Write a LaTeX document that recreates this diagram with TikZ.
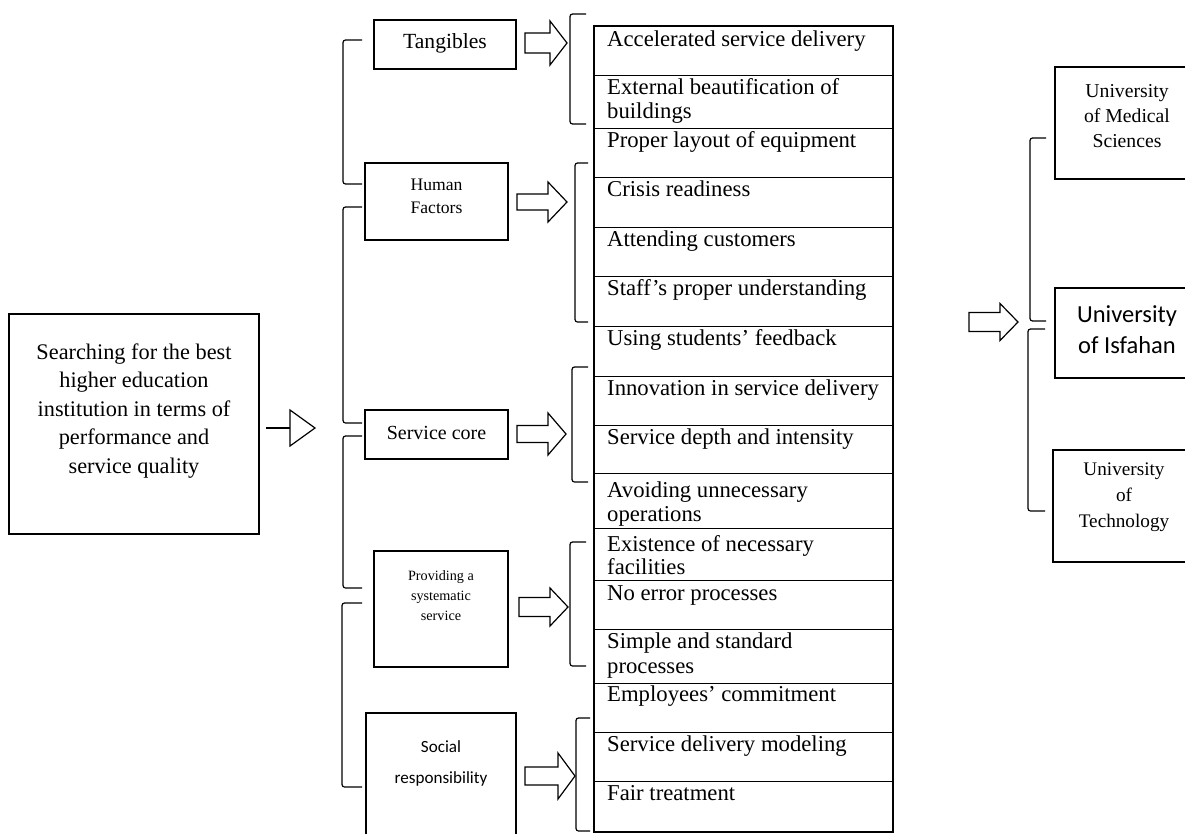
\documentclass[tikz,border=0pt]{standalone}
\usepackage{fontspec}
\setmainfont{Liberation Serif}
\newfontfamily\calib{Carlito}
\tikzset{
  boxr/.style={draw, line width=1.3pt, inner sep=0pt},
  brkt/.style={line width=1.2pt, rounded corners=2.5pt},
  barr/.style={draw, line width=1.2pt, fill=white, line join=miter},
  ltxt/.style={anchor=base west, inner sep=0pt, font=\fontsize{22.7}{25}\selectfont},
  ctxt/.style={align=center, inner sep=0pt},
  sepline/.style={line width=1pt},
}
\newcommand\blockarr[6]{%
  \draw[barr] (#1,#4-#5) -- (#2,#4-#5) -- (#2,#4-#6) -- (#3,#4) -- (#2,#4+#6) -- (#2,#4+#5) -- (#1,#4+#5) -- cycle;}
\newcommand\mybrk[4]{%
  \draw[brkt] (#4,#2) -- (#1,#2) -- (#1,#3) -- (#4,#3);}
\begin{document}
\begin{tikzpicture}[x=1pt,y=-1pt]
\useasboundingbox (0,0) rectangle (1185,833);
\clip (0,0) rectangle (1185,833);
\fill[white] (0,0) rectangle (1185,833);

% left box
\node[boxr, minimum width=250pt, minimum height=220pt] (left) at (134,424) {};
\node[ctxt, font=\fontsize{22.3}{28.5}\selectfont] (lefttxt) at (134,411)
  {Searching for the best\\higher education\\institution in terms of\\performance and\\service quality};
\coordinate (la) at (266,428);
\coordinate (lb) at (290,428);
\draw[line width=1.2pt] (la) -- (lb);
\draw[line width=1.2pt, fill=white, line join=miter] (290,410) -- (315,428) -- (290,446) -- cycle;

% middle boxes
\node[boxr, minimum width=142pt, minimum height=49pt] (tang) at (445,44.5) {};
\node[ctxt, font=\fontsize{21.6}{25}\selectfont] (tangtxt) at (445,43) {Tangibles};
\node[boxr, minimum width=143pt, minimum height=77pt] (hf) at (436.5,201.5) {};
\node[ctxt, font=\fontsize{17.6}{23}\selectfont] (hftxt) at (436.5,196) {Human\\Factors};
\node[boxr, minimum width=143pt, minimum height=49pt] (sc) at (436.5,434.5) {};
\node[ctxt, font=\fontsize{20}{24}\selectfont] (sctxt) at (436.5,433) {Service core};
\node[boxr, minimum width=134pt, minimum height=116pt] (ps) at (441,609) {};
\node[ctxt, font=\fontsize{14.2}{20}\selectfont] (pstxt) at (441,596) {Providing a\\systematic\\service};
\node[boxr, minimum width=150pt, minimum height=137pt] (sr) at (441,781.5) {};
\node[ctxt, font=\calib\fontsize{17.1}{31}\selectfont] (srtxt) at (441,763) {Social\\responsibility};

% brackets left of middle column
\mybrk{343}{40}{184}{362}
\mybrk{343}{207}{423}{362}
\mybrk{343}{436}{588}{362}
\mybrk{342}{603}{787}{362}

% block arrows
\blockarr{525}{550}{567}{43}{10}{22}
\blockarr{517}{548}{567}{202}{8}{20}
\blockarr{517}{548}{566}{434}{8.5}{21}
\blockarr{519}{550}{568}{607}{9.5}{19}
\blockarr{525}{558}{575}{776}{9}{23}

% brackets right of middle column
\mybrk{570}{14}{124}{586}
\mybrk{575}{163}{322}{588}
\mybrk{572}{367}{482}{588}
\mybrk{570}{542}{666}{586}
\mybrk{576}{718}{831}{590}

% list
\node[draw, line width=1.6pt, minimum width=299pt, minimum height=806pt, anchor=north west, inner sep=0pt] (list) at (593,25) {};
\foreach \yy in {75,128,177,227,276,326,376,425,473,528,580,629,683,732,781}
  \draw[sepline] (593,\yy) -- (892,\yy);

\node[ltxt] (r1) at (607,46) {Accelerated service delivery};
\node[ltxt] (r2a) at (607,94) {External beautification of};
\node[ltxt] (r2b) at (607,118) {buildings};
\node[ltxt] (r3) at (607,147) {Proper layout of equipment};
\node[ltxt] (r4) at (607,196) {Crisis readiness};
\node[ltxt] (r5) at (607,246) {Attending customers};
\node[ltxt] (r6) at (607,295) {Staff’s proper understanding};
\node[ltxt] (r7) at (607,345) {Using students’ feedback};
\node[ltxt] (r8) at (607,395) {Innovation in service delivery};
\node[ltxt] (r9) at (607,444) {Service depth and intensity};
\node[ltxt] (r10a) at (607,497) {Avoiding unnecessary};
\node[ltxt] (r10b) at (607,521) {operations};
\node[ltxt] (r11a) at (607,551) {Existence of necessary};
\node[ltxt] (r11b) at (607,574) {facilities};
\node[ltxt] (r12) at (607,600) {No error processes};
\node[ltxt] (r13a) at (607,648) {Simple and standard};
\node[ltxt] (r13b) at (607,673) {processes};
\node[ltxt] (r14) at (607,701) {Employees’ commitment};
\node[ltxt] (r15) at (607,751) {Service delivery modeling};
\node[ltxt] (r16) at (607,800) {Fair treatment};

% right arrow and brackets
\blockarr{969}{1000}{1018}{322}{9.5}{18.5}
\mybrk{1030}{138}{321}{1046}
\mybrk{1028}{329}{511}{1045}

% right boxes
\node[boxr, minimum width=140pt, minimum height=112pt] (med) at (1125,123) {};
\node[ctxt, font=\fontsize{19.7}{25}\selectfont] (medtxt) at (1127,116) {University\\of Medical\\Sciences};
\node[boxr, minimum width=140pt, minimum height=90pt] (isf) at (1125,333) {};
\node[ctxt, font=\calib\fontsize{24.5}{31}\selectfont] (isftxt) at (1127,330) {University\\of Isfahan};
\node[boxr, minimum width=142pt, minimum height=112pt] (tech) at (1124,506) {};
\node[ctxt, font=\fontsize{19.2}{26}\selectfont] (techtxt) at (1124,497) {University\\of\\Technology};
\end{tikzpicture}
\end{document}
